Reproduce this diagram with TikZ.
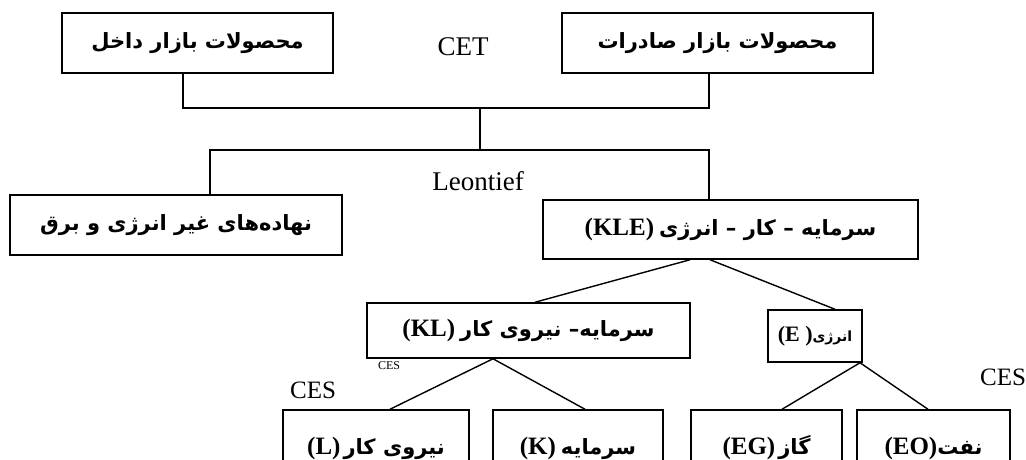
\documentclass[tikz,border=0pt]{standalone}
\usepackage{fontspec}
\setmainfont{Liberation Serif}
\newfontfamily\fa[Script=Arabic]{DejaVu Sans}
\TeXXeTstate=1
\tikzset{
  box/.style={draw, line width=1.5pt, rectangle, inner sep=0pt, align=center},
  conn/.style={line width=1.4pt},
  lbl/.style={inner sep=0pt, font=\fontsize{27}{30}\selectfont},
}
\newcommand{\fat}[1]{{\fa\bfseries\fontsize{21}{25}\selectfont\beginR #1\endR}}
\newcommand{\fats}[1]{{\fa\bfseries\fontsize{14}{17}\selectfont\beginR #1\endR}}
\newcommand{\lat}[1]{{\bfseries\fontsize{25}{28}\selectfont #1}}
\begin{document}
\begin{tikzpicture}[x=1pt,y=-1pt]
\useasboundingbox (0,0) rectangle (1026,459);
\clip (0,0) rectangle (1026,459);
\fill[white] (0,0) rectangle (1026,459);

\node[box, minimum width=271pt, minimum height=60pt] (b1) at (197.5,43) {\fat{محصولات بازار داخل}};
\node[box, minimum width=311pt, minimum height=60pt] (b2) at (717.5,43) {\fat{محصولات بازار صادرات}};
\node[box, minimum width=332pt, minimum height=60pt] (b3) at (176,225) {\fat{نهاده‌های غیر انرژی و برق}};
\node[box, minimum width=375pt, minimum height=59pt] (b4) at (730.5,229.5) {\lat{(KLE)}\hspace{5pt}\fat{سرمایه – کار – انرژی}};
\node[box, minimum width=323pt, minimum height=55pt] (b5) at (528.5,330.5) {\lat{(KL)}\hspace{5pt}\fat{سرمایه– نیروی کار}};
\node[box, minimum width=94pt, minimum height=52pt] (b6) at (815,336) {{\bfseries\fontsize{22}{25}\selectfont (E )}\fats{انرژی}};
\node[box, minimum width=186pt, minimum height=76pt] (b7) at (376,448) {\lat{(L)}\hspace{3pt}\fat{نیروی کار}};
\node[box, minimum width=170pt, minimum height=76pt] (b8) at (578,448) {\lat{(K)}\hspace{5pt}\fat{سرمایه}};
\node[box, minimum width=151pt, minimum height=76pt] (b9) at (766.5,448) {\lat{(EG)}\hspace{3pt}\fat{گاز}};
\node[box, minimum width=153pt, minimum height=76pt] (b10) at (933.5,448) {\lat{(EO)}\fat{نفت}};

\node[lbl] (cet) at (463,47) {CET};
\node[lbl] (leo) at (478,181) {Leontief};
\node[lbl, font=\fontsize{12}{14}\selectfont] (ces1) at (389,366) {CES};
\node[lbl, font=\fontsize{25}{28}\selectfont] (ces2) at (313,390) {CES};
\node[lbl, font=\fontsize{25}{28}\selectfont] (ces3) at (1003,377) {CES};

\coordinate (j1) at (183,108);
\coordinate (j2) at (709,108);
\coordinate (j3) at (480,108);
\coordinate (j4) at (480,150);
\coordinate (j5) at (210,150);
\coordinate (j6) at (709,150);
\coordinate (k1) at (690,0);
\coordinate (k2) at (535,0);
\coordinate (k3) at (710,0);
\coordinate (k4) at (835,0);
\coordinate (k5) at (493,0);
\coordinate (k6) at (390,0);
\coordinate (k7) at (585,0);
\coordinate (k8) at (860,0);
\coordinate (k9) at (782,0);
\coordinate (k10) at (928,0);

\draw[conn] (b1.south -| j1) -- (j1) -- (j2) -- (b2.south -| j2);
\draw[conn] (j3) -- (j4);
\draw[conn] (b3.north -| j5) -- (j5) -- (j6) -- (b4.north -| j6);
\draw[conn] (b4.south -| k1) -- (b5.north -| k2);
\draw[conn] (b4.south -| k3) -- (b6.north -| k4);
\draw[conn] (b5.south -| k5) -- (b7.north -| k6);
\draw[conn] (b5.south -| k5) -- (b8.north -| k7);
\draw[conn] (b6.south -| k8) -- (b9.north -| k9);
\draw[conn] (b6.south -| k8) -- (b10.north -| k10);
\end{tikzpicture}
\end{document}
